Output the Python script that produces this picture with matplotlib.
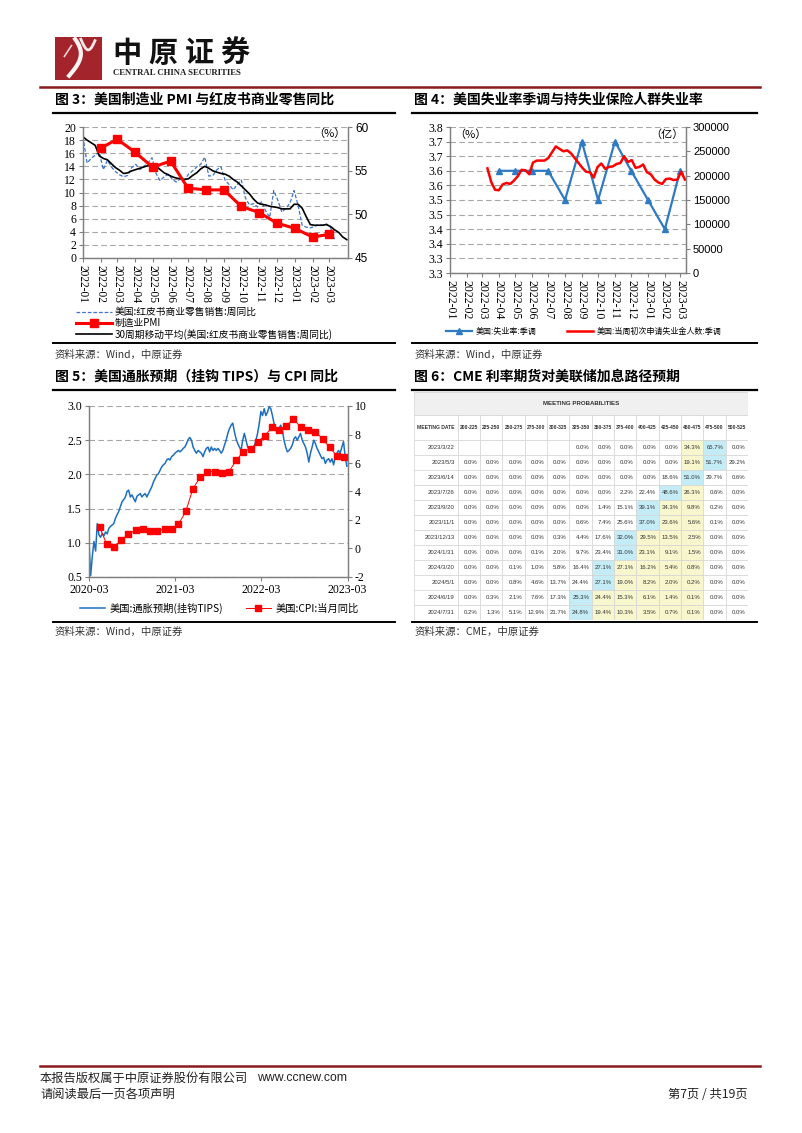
import numpy as np
import pandas as pd
import matplotlib
matplotlib.use("Agg")
import matplotlib.pyplot as plt
from matplotlib.lines import Line2D
from matplotlib.patches import Rectangle

W, H = 802, 1133
CJK = ['Noto Sans CJK SC', 'DejaVu Sans']
SERIF = ['Liberation Serif', 'Noto Sans CJK SC']
SANS = ['Liberation Sans', 'Noto Sans CJK SC']
NARROW = ['Liberation Sans Narrow', 'DejaVu Sans Condensed', 'Liberation Sans']
plt.rcParams['font.family'] = CJK
plt.rcParams['axes.unicode_minus'] = False

# ---------------- data ----------------
# fig 3: redbook weekly yoy, 30-week moving average, ISM manufacturing PMI
redbook_start = '2022-01-01'
redbook_yoy = [18.5, 14.5, 15.2, 15.7, 16.2, 13.5, 14.9, 13.9, 13.2, 12.7, 12.4, 12.6,
               13.8, 14.3, 13.5, 14.0, 14.5, 15.3, 12.9, 11.8, 12.4, 12.8, 12.0, 11.6,
               12.1, 11.9, 12.8, 13.3, 13.9, 14.3, 15.4, 12.5, 12.6, 13.5, 13.9, 11.9,
               11.2, 10.4, 11.2, 11.9, 9.2, 8.1, 8.3, 7.8, 8.6, 7.2, 6.2, 10.3,
               8.8, 7.0, 7.6, 8.4, 10.3, 8.0, 5.0, 4.7, 4.6, 4.8, 5.1, 5.0,
               5.2, 4.6, 2.9]
redbook_ma30 = [18.5, 18.0, 17.6, 17.2, 15.6, 15.2, 15.0, 14.4, 13.8, 13.4, 12.9, 13.0,
                13.3, 13.5, 13.7, 13.9, 14.1, 14.1, 14.0, 13.5, 13.0, 12.7, 12.4, 12.2,
                12.1, 12.0, 12.1, 12.6, 13.0, 13.6, 14.0, 13.7, 13.3, 13.1, 12.9, 12.8,
                12.5, 12.0, 11.6, 11.0, 10.4, 9.8, 9.0, 8.4, 8.2, 8.1, 7.9, 7.8,
                7.7, 7.5, 7.5, 7.5, 8.2, 8.2, 7.6, 6.3, 5.1, 5.0, 5.0, 5.0,
                5.1, 4.8, 4.3, 3.9, 3.2, 2.8]
pmi_start = '2022-02-01'
pmi = [57.6, 58.6, 57.1, 55.4, 56.1, 53.0, 52.8, 52.8, 50.9, 50.2, 49.0, 48.4, 47.4, 47.7]

# fig 4: unemployment rate (monthly) and weekly initial jobless claims
unemp_start = '2022-04-01'
unemp = [3.6, 3.6, 3.6, 3.6, 3.5, 3.7, 3.5, 3.7, 3.6, 3.5, 3.4, 3.6]
claims_start = '2022-03-11'
claims = [215000, 187000, 171000, 170000, 182000, 185000, 183000, 190000, 199000, 212000,
          211000, 203000, 227000, 231000, 231000, 231000, 236000, 248000, 260000, 255000,
          250000, 252000, 246000, 236000, 226000, 216000, 208000, 207000, 196000, 218000,
          225000, 214000, 218000, 219000, 224000, 226000, 240000, 228000, 232000, 216000,
          218000, 223000, 207000, 203000, 192000, 186000, 183000, 193000, 194000, 191000,
          192000, 208000, 192000]
unemp_ticklabels = ['3.3', '3.3', '3.4', '3.4', '3.5', '3.5', '3.6', '3.6', '3.7', '3.7', '3.8']

# fig 5: TIPS breakeven inflation (weekly) and CPI yoy (monthly)
tips_start = '2020-03-01'
tips = [1.00, 0.52, 0.80, 1.02, 0.88, 1.28, 1.12, 1.08, 1.14, 1.10, 1.16, 1.13,
        1.21, 1.24, 1.26, 1.28, 1.36, 1.41, 1.46, 1.53, 1.60, 1.63, 1.67, 1.75,
        1.77, 1.67, 1.70, 1.65, 1.60, 1.68, 1.70, 1.72, 1.67, 1.70, 1.72, 1.67,
        1.72, 1.77, 1.82, 1.89, 1.94, 1.99, 2.01, 2.06, 2.11, 2.14, 2.16, 2.21,
        2.23, 2.21, 2.26, 2.28, 2.31, 2.33, 2.35, 2.33, 2.35, 2.38, 2.40, 2.45,
        2.51, 2.54, 2.50, 2.40, 2.35, 2.31, 2.35, 2.33, 2.31, 2.26, 2.33, 2.38,
        2.40, 2.33, 2.40, 2.35,
        2.38, 2.35, 2.38, 2.35, 2.31, 2.35, 2.43, 2.50, 2.60, 2.67, 2.72, 2.75,
        2.62, 2.52, 2.45, 2.40, 2.35, 2.50, 2.60, 2.50, 2.40, 2.35, 2.38, 2.35,
        2.40, 2.50, 2.60, 2.74, 2.92, 2.86, 2.96, 2.86, 2.91, 2.99, 2.96, 2.86,
        2.74, 2.65, 2.60, 2.67, 2.72, 2.65, 2.50, 2.40, 2.33, 2.35, 2.38, 2.43,
        2.52, 2.55, 2.50, 2.55, 2.60, 2.50, 2.45, 2.40, 2.31, 2.18, 2.31, 2.40,
        2.50, 2.45, 2.38, 2.33, 2.28, 2.23, 2.25, 2.16, 2.21, 2.23, 2.18, 2.23,
        2.14, 2.26, 2.31, 2.35, 2.31, 2.40, 2.48, 2.26, 2.12]
cpi_start = '2020-03-15'
cpi = [1.5, 0.3, 0.1, 0.6, 1.0, 1.3, 1.4, 1.2, 1.2, 1.4, 1.4, 1.7,
       2.6, 4.2, 5.0, 5.4, 5.4, 5.3, 5.4, 6.2, 6.8, 7.0, 7.5, 7.9,
       8.5, 8.3, 8.6, 9.1, 8.5, 8.3, 8.2, 7.7, 7.1, 6.5, 6.4, 6.0]

# fig 6: CME meeting probabilities
cme_cols = ['200-225', '225-250', '250-275', '275-300', '300-325', '325-350', '350-375',
            '375-400', '400-425', '425-450', '450-475', '475-500', '500-525']
cme_dates = ['2023/3/22', '2023/5/3', '2023/6/14', '2023/7/26', '2023/9/20', '2023/11/1',
             '2023/12/13', '2024/1/31', '2024/3/20', '2024/5/1', '2024/6/19', '2024/7/31']
cme_probs = [
    [None, None, None, None, None, 0.0, 0.0, 0.0, 0.0, 0.0, 34.3, 65.7, 0.0],
    [0.0, 0.0, 0.0, 0.0, 0.0, 0.0, 0.0, 0.0, 0.0, 0.0, 19.1, 51.7, 29.2],
    [0.0, 0.0, 0.0, 0.0, 0.0, 0.0, 0.0, 0.0, 0.0, 18.6, 51.0, 29.7, 0.6],
    [0.0, 0.0, 0.0, 0.0, 0.0, 0.0, 0.0, 2.2, 22.4, 48.6, 26.3, 0.6, 0.0],
    [0.0, 0.0, 0.0, 0.0, 0.0, 0.0, 1.4, 15.1, 39.1, 34.3, 9.8, 0.2, 0.0],
    [0.0, 0.0, 0.0, 0.0, 0.0, 0.6, 7.4, 25.6, 37.0, 23.6, 5.6, 0.1, 0.0],
    [0.0, 0.0, 0.0, 0.0, 0.3, 4.4, 17.6, 32.0, 29.5, 13.5, 2.5, 0.0, 0.0],
    [0.0, 0.0, 0.0, 0.1, 2.0, 9.7, 23.4, 31.0, 23.1, 9.1, 1.5, 0.0, 0.0],
    [0.0, 0.0, 0.1, 1.0, 5.8, 16.4, 27.1, 27.1, 16.2, 5.4, 0.8, 0.0, 0.0],
    [0.0, 0.0, 0.8, 4.6, 13.7, 24.4, 27.1, 19.0, 8.2, 2.0, 0.2, 0.0, 0.0],
    [0.0, 0.3, 2.1, 7.6, 17.3, 25.3, 24.4, 15.3, 6.1, 1.4, 0.1, 0.0, 0.0],
    [0.2, 1.3, 5.1, 12.9, 21.7, 24.8, 19.4, 10.3, 3.5, 0.7, 0.1, 0.0, 0.0],
]
current_target = '450-475'

# ---------------- helpers ----------------
fig = plt.figure(figsize=(W / 100, H / 100), dpi=100)
GRID = dict(color='#a6a6a6', linestyle=(0, (5, 3)), linewidth=0.8)
SPINE = '#808080'


def box(x0, y0, x1, y1):
    return [x0 / W, 1 - y1 / H, (x1 - x0) / W, (y1 - y0) / H]


def hline(y, x0, x1, lw=1.5, color='black'):
    fig.add_artist(Line2D([x0 / W, x1 / W], [1 - y / H, 1 - y / H], lw=lw, color=color))


def ftext(x, y, s, **kw):
    kw.setdefault('va', 'center')
    fig.text(x / W, 1 - y / H, s, **kw)


def style_axes(ax, axr):
    for a in (ax, axr):
        for side in ('left', 'right', 'bottom'):
            a.spines[side].set_color(SPINE)
            a.spines[side].set_linewidth(0.9)
        a.spines['top'].set_visible(False)
        a.tick_params(axis='both', length=3, width=0.8, color=SPINE, pad=2)


# ---------------- header / footer ----------------
logo = fig.add_axes(box(55, 37, 102, 80))
logo.set_xlim(0, 1)
logo.set_ylim(0, 1)
logo.axis('off')
logo.add_patch(Rectangle((0, 0), 1, 1, color='#a3242b'))
t = np.linspace(0, 1, 50)
logo.plot(0.30 + 0.25 * np.sin(t * 2.6), 0.10 + 0.85 * t, color='white', lw=3.0, alpha=0.95)
logo.plot(0.55 + 0.30 * t, 0.95 - 0.25 * np.sin(t * 3), color='white', lw=2.0, alpha=0.9)
logo.plot(0.20 + 0.15 * t, 0.55 + 0.25 * t, color='white', lw=1.2, alpha=0.8)
for i, ch in enumerate('中原证券'):
    ftext(127 + i * 36, 53, ch, fontsize=21, fontweight='bold', ha='center', color='#111111')
ftext(113, 73, 'CENTRAL CHINA SECURITIES', fontsize=6.3, fontweight='bold',
      family=SERIF, color='#222222')
hline(87, 40, 760, lw=1.8, color='#8b1a1f')

hline(1066, 40, 760, lw=1.8, color='#8b1a1f')
ftext(40, 1078, '本报告版权属于中原证券股份有限公司', fontsize=8.8, color='#222222')
ftext(257, 1078, 'www.ccnew.com', fontsize=8.8, family=SANS, color='#222222')
ftext(40, 1094, '请阅读最后一页各项声明', fontsize=8.8, color='#222222')
ftext(748, 1094, '第7页 / 共19页', fontsize=8.8, ha='right', color='#222222')

# ---------------- titles, rules and sources ----------------
ftext(55, 100, '图 3：美国制造业 PMI 与红皮书商业零售同比', fontsize=10, fontweight='bold')
ftext(414, 100, '图 4：美国失业率季调与持失业保险人群失业率', fontsize=10, fontweight='bold')
ftext(55, 377, '图 5：美国通胀预期（挂钩 TIPS）与 CPI 同比', fontsize=10, fontweight='bold')
ftext(414, 377, '图 6：CME 利率期货对美联储加息路径预期', fontsize=10, fontweight='bold')
for yy in (113, 390):
    hline(yy, 53, 395, lw=1.6)
    hline(yy, 412, 757, lw=1.6)
for yy in (343, 622):
    hline(yy, 53, 395, lw=1.4)
    hline(yy, 412, 757, lw=1.4)
ftext(55, 355, '资料来源：Wind，中原证券', fontsize=7.5, color='#333333')
ftext(415, 355, '资料来源：Wind，中原证券', fontsize=7.5, color='#333333')
ftext(55, 632, '资料来源：Wind，中原证券', fontsize=7.5, color='#333333')
ftext(415, 632, '资料来源：CME，中原证券', fontsize=7.5, color='#333333')

# ---------------- fig 3 ----------------
ax3 = fig.add_axes(box(83, 127, 348, 258))
ax3r = ax3.twinx()
style_axes(ax3, ax3r)
d_rb = pd.date_range(redbook_start, periods=len(redbook_yoy), freq='7D')
d_ma = pd.date_range(redbook_start, periods=len(redbook_ma30), freq='7D')
d_pmi = pd.date_range(pmi_start, periods=len(pmi), freq='MS')
l1, = ax3.plot(d_rb, redbook_yoy, color='#3f74c6', lw=0.9, linestyle=(0, (3, 1.5)),
               label='美国:红皮书商业零售销售:周同比')
l3, = ax3.plot(d_ma, redbook_ma30, color='black', lw=1.2,
               label='30周期移动平均(美国:红皮书商业零售销售:周同比)')
l2, = ax3r.plot(d_pmi, pmi, color='#ff0000', lw=2.2, marker='s', markersize=6,
                label='制造业PMI')
ax3.set_ylim(0, 20)
ax3.set_yticks(range(0, 21, 2), [str(v) for v in range(0, 21, 2)], fontsize=8.5, family=SERIF)
ax3r.set_ylim(45, 60)
ax3r.set_yticks([45, 50, 55, 60], ['45', '50', '55', '60'], fontsize=8.5, family=SANS)
ax3.set_xlim(pd.Timestamp('2022-01-01'), pd.Timestamp('2023-04-03'))
m3 = pd.date_range('2022-01-01', '2023-03-01', freq='MS')
ax3.set_xticks(m3, [d.strftime('%Y-%m') for d in m3], rotation=270, fontsize=8.3,
               family=SERIF, ha='center', va='top')
ax3.yaxis.grid(True, **GRID)
ax3.set_axisbelow(True)
ax3r.text(0.99, 0.95, '（%）', transform=ax3r.transAxes, ha='right', va='center', fontsize=8)
ax3.legend(handles=[l1, l2, l3], loc='upper left', bbox_to_anchor=(76 / W, 1 - 307 / H),
           bbox_transform=fig.transFigure, frameon=False, fontsize=7, handlelength=3.7,
           handletextpad=0.3, labelspacing=0.1, borderpad=0, borderaxespad=0, numpoints=1)

# ---------------- fig 4 ----------------
ax4 = fig.add_axes(box(450, 127, 686, 273))
ax4r = ax4.twinx()
style_axes(ax4, ax4r)
d_un = pd.date_range(unemp_start, periods=len(unemp), freq='MS')
d_cl = pd.date_range(claims_start, periods=len(claims), freq='7D')
b4, = ax4.plot(d_un, unemp, color='#2e7bc4', lw=1.6, marker='^', markersize=5,
               label='美国:失业率:季调')
r4, = ax4r.plot(d_cl, claims, color='#ff0000', lw=1.8, label='美国:当周初次申请失业金人数:季调')
ax4.set_ylim(3.25, 3.75)
ax4.set_yticks(np.linspace(3.25, 3.75, 11), unemp_ticklabels, fontsize=8.5, family=SERIF)
ax4r.set_ylim(0, 300000)
ax4r.set_yticks(range(0, 300001, 50000), [str(v) for v in range(0, 300001, 50000)],
                fontsize=8, family=SANS)
ax4.set_xlim(pd.Timestamp('2022-01-01'), pd.Timestamp('2023-03-12'))
m4 = pd.date_range('2022-01-01', '2023-03-01', freq='MS')
ax4.set_xticks(m4, [d.strftime('%Y-%m') for d in m4], rotation=270, fontsize=8.5,
               family=SERIF, ha='center', va='top')
ax4.yaxis.grid(True, **GRID)
ax4.set_axisbelow(True)
ax4.text(0.02, 0.95, '（%）', transform=ax4.transAxes, ha='left', va='center', fontsize=8)
ax4r.text(0.99, 0.95, '（亿）', transform=ax4r.transAxes, ha='right', va='center', fontsize=8)
ax4.legend(handles=[b4, r4], loc='center left', bbox_to_anchor=(446 / W, 1 - 331 / H),
           bbox_transform=fig.transFigure, frameon=False, fontsize=5.8, ncol=2,
           handlelength=3.2, handletextpad=0.5, columnspacing=3.8, borderpad=0,
           borderaxespad=0, numpoints=1)

# ---------------- fig 5 ----------------
ax5 = fig.add_axes(box(89, 406, 348, 577))
ax5r = ax5.twinx()
style_axes(ax5, ax5r)
d_tips = pd.date_range(tips_start, periods=len(tips), freq='7D')
d_cpi = pd.date_range(cpi_start, periods=len(cpi), freq='MS') + pd.Timedelta(days=14)
b5, = ax5.plot(d_tips, tips, color='#1f6fbf', lw=1.1, label='美国:通胀预期(挂钩TIPS)')
r5, = ax5r.plot(d_cpi, cpi, color='#ff0000', lw=0.7, marker='s', markersize=4,
                label='美国:CPI:当月同比')
ax5.set_ylim(0.5, 3.0)
ax5.set_yticks(np.linspace(0.5, 3.0, 6), ['0.5', '1.0', '1.5', '2.0', '2.5', '3.0'],
               fontsize=8.5, family=SERIF)
ax5r.set_ylim(-2, 10)
ax5r.set_yticks(range(-2, 11, 2), [str(v) for v in range(-2, 11, 2)], fontsize=8.5, family=SERIF)
ax5.set_xlim(pd.Timestamp('2020-03-01'), pd.Timestamp('2023-03-03'))
y5 = pd.to_datetime(['2020-03-01', '2021-03-01', '2022-03-01', '2023-03-01'])
ax5.set_xticks(y5, [d.strftime('%Y-%m') for d in y5], fontsize=8.5, family=SERIF)
ax5.yaxis.grid(True, **GRID)
ax5.set_axisbelow(True)
ax5.legend(handles=[b5, r5], loc='center left', bbox_to_anchor=(80 / W, 1 - 608 / H),
           bbox_transform=fig.transFigure, frameon=False, fontsize=7.4, ncol=2,
           handlelength=2.4, handletextpad=0.5, columnspacing=2.2, borderpad=0,
           borderaxespad=0, numpoints=1)

# ---------------- fig 6: table ----------------
x0, x1, y0, y1 = 414, 748, 392, 620
axt = fig.add_axes(box(x0, y0, x1, y1))
axt.set_xlim(x0, x1)
axt.set_ylim(y1, y0)
axt.axis('off')
date_w = 43.7
col_w = (x1 - x0 - date_w) / len(cme_cols)
top_h, head_h = 23, 25
row_h = (y1 - y0 - top_h - head_h) / len(cme_dates)
LINEC = '#d4d4d4'
axt.add_patch(Rectangle((x0, y0), x1 - x0, top_h, facecolor='#f0f0f0', edgecolor=LINEC, lw=0.5))
axt.text((x0 + x1) / 2, y0 + top_h / 2, 'MEETING PROBABILITIES', ha='center', va='center',
         fontsize=4.4, fontweight='bold', family=NARROW, color='#333333')
hy = y0 + top_h
axt.add_patch(Rectangle((x0, hy), date_w, head_h, facecolor='white', edgecolor=LINEC, lw=0.5))
axt.text(x0 + date_w / 2, hy + head_h / 2, 'MEETING DATE', ha='center', va='center',
         fontsize=3.6, fontweight='bold', family=NARROW, color='#333333')
for j, c in enumerate(cme_cols):
    cx = x0 + date_w + j * col_w
    axt.add_patch(Rectangle((cx, hy), col_w, head_h, facecolor='white', edgecolor=LINEC, lw=0.5))
    axt.text(cx + col_w / 2, hy + head_h / 2, c, ha='center', va='center', fontsize=3.6,
             fontweight='bold', family=NARROW, color='#333333')
tgt = cme_cols.index(current_target)
for i, (d, row) in enumerate(zip(cme_dates, cme_probs)):
    ry = hy + head_h + i * row_h
    axt.add_patch(Rectangle((x0, ry), date_w, row_h, facecolor='white', edgecolor=LINEC, lw=0.5))
    axt.text(x0 + date_w - 3, ry + row_h / 2, d, ha='right', va='center', fontsize=4.3,
             family=NARROW, color='#333333')
    vals = [v if v is not None else -1 for v in row]
    jmax = int(np.argmax(vals))
    for j, v in enumerate(row):
        cx = x0 + date_w + j * col_w
        if j == jmax:
            fc = '#c3ecf6'
        elif min(jmax, tgt) <= j <= max(jmax, tgt):
            fc = '#f8f6cc'
        else:
            fc = 'white'
        axt.add_patch(Rectangle((cx, ry), col_w, row_h, facecolor=fc, edgecolor=LINEC, lw=0.5))
        if v is not None:
            axt.text(cx + col_w - 2.5, ry + row_h / 2, f'{v:.1f}%', ha='right', va='center',
                     fontsize=4.3, family=NARROW, color='#333333')

fig.savefig('out.png', dpi=100)
